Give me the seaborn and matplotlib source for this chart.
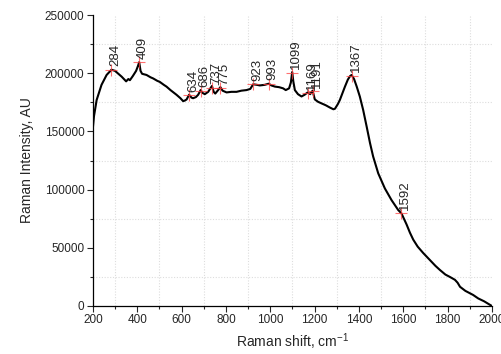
import numpy as np
import pandas as pd
import matplotlib
matplotlib.use('Agg')
import matplotlib.pyplot as plt
import seaborn as sns
from matplotlib.ticker import MultipleLocator

# spectrum
shift = [200, 205, 217, 239, 262, 284, 300, 315, 330, 350, 360, 367, 380, 395, 403, 409,
         415, 422, 442, 460, 472, 490, 502, 520, 532, 550, 577, 595, 607, 615, 623, 634, 645,
         652, 665, 675, 686, 695, 705, 720, 730, 737, 745, 752, 765, 775, 785, 803, 825, 848,
         870, 893, 910, 923, 940, 953, 975, 993, 1005, 1021, 1040, 1058, 1070, 1085, 1093,
         1099, 1104, 1111, 1125, 1141, 1155, 1169, 1180, 1191, 1201, 1215, 1232, 1250, 1269,
         1285, 1292, 1305, 1314, 1325, 1337, 1350, 1360, 1367, 1378, 1390, 1404, 1419,
         1435, 1450, 1464, 1487, 1517, 1547, 1577, 1592, 1615, 1630, 1645, 1665, 1690,
         1720, 1745, 1765, 1790, 1810, 1833, 1845, 1856, 1880, 1915, 1938, 1965, 1991, 2000]
intensity = [153000, 163000, 177000, 190000, 198500, 203000, 202000, 199500, 197000,
             193000, 195000, 194000, 197500, 202000, 206000, 209500, 202000, 199500, 198500,
             196500, 195500, 193500, 192500, 190000, 188500, 185500, 181500, 178500, 176000,
             176500, 177500, 181500, 179000, 178500, 179500, 181500, 185500, 183000, 182000,
             184000, 187000, 189000, 184000, 182500, 185500, 188000, 185000, 183500, 184000,
             184000, 185000, 185500, 186500, 190500, 190000, 189500, 190000, 191000, 189500,
             188500, 188000, 187000, 185500, 187000, 192000, 201000, 193000, 185500, 182000,
             180000, 181500, 183500, 182000, 185000, 177500, 175500, 174000, 172500, 170500,
             169000, 169500, 173500, 177000, 182500, 188500, 194500, 197500, 198500, 195000,
             188500, 180000, 168500, 154000, 140000, 128500, 114000, 101000, 91000, 82500,
             79500, 70000, 63000, 57000, 51000, 45500, 39500, 34500, 31000,
             27000, 25000, 22500, 20000, 16500, 13000, 9500, 6500, 4000, 1000, 0]

# marked peaks
peak_pos = [284, 409, 634, 686, 737, 775, 923, 993, 1099, 1169, 1191, 1367, 1592]
peak_int = [203000, 209500, 181000, 185000, 187500, 187000, 190500, 191000, 200500,
            183000, 184500, 198000, 79500]

df = pd.DataFrame({'shift': shift, 'intensity': intensity})

sns.set_style('ticks')
plt.rcParams['font.family'] = ['Liberation Sans', 'DejaVu Sans']
plt.rcParams['mathtext.default'] = 'regular'

fig = plt.figure(figsize=(5.02, 3.54), dpi=100)
ax = fig.add_axes([0.185, 0.1356, 0.795, 0.822])

sns.lineplot(data=df, x='shift', y='intensity', color='black', lw=1.5, ax=ax)
ax.plot(peak_pos, peak_int, ls='none', marker='+', ms=8, mew=0.8, color='#ff4040', alpha=0.75)
for p, v in zip(peak_pos, peak_int):
    ax.annotate(str(p), (p, v), xytext=(-1.5, 2.5), textcoords='offset points',
                rotation=90, ha='left', va='bottom', fontsize=9.5)

ax.set_xlim(200, 2000)
ax.set_ylim(0, 250000)
ax.xaxis.set_major_locator(MultipleLocator(200))
ax.xaxis.set_minor_locator(MultipleLocator(100))
ax.yaxis.set_major_locator(MultipleLocator(50000))
ax.yaxis.set_minor_locator(MultipleLocator(25000))

# faint dotted grid sits on the in-between ticks
for gx in range(300, 2000, 200):
    ax.axvline(gx, color='#dddddd', ls=(0, (1, 1.5)), lw=0.8, zorder=0)
for gy in range(25000, 250000, 50000):
    ax.axhline(gy, color='#dddddd', ls=(0, (1, 1.5)), lw=0.8, zorder=0)

ax.tick_params(which='major', direction='out', length=4, width=0.8, labelsize=8.5, pad=2)
ax.tick_params(which='minor', direction='out', length=2.5, width=0.8)
sns.despine(ax=ax)
for s in ['left', 'bottom']:
    ax.spines[s].set_color('black')
    ax.spines[s].set_linewidth(0.9)

ax.set_xlabel('Raman shift, cm$^{-1}$', fontsize=10)
ax.set_ylabel('Raman Intensity, AU', fontsize=10, labelpad=8)

fig.savefig('out.png', dpi=100)
